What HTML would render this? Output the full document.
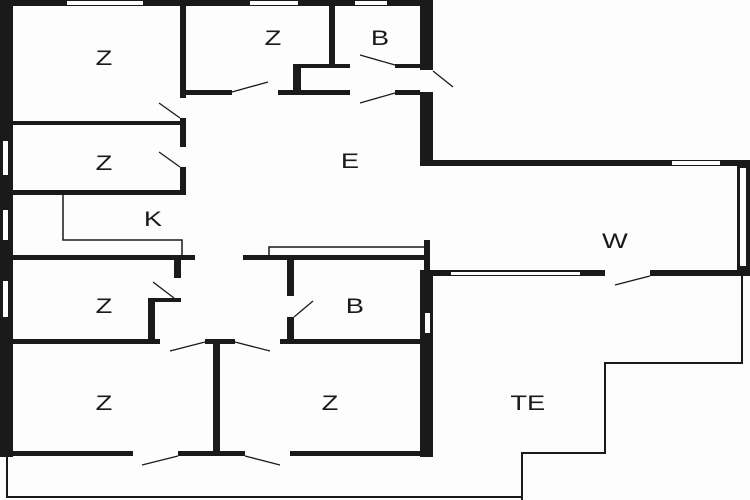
<!DOCTYPE html>
<html><head><style>body{margin:0;background:#fff}svg{display:block}text{font-family:"Liberation Sans",sans-serif;font-size:21px;fill:#1a1a1a;text-anchor:middle}</style></head><body>
<svg width="750" height="500" viewBox="0 0 750 500" xmlns="http://www.w3.org/2000/svg">
<rect width="750" height="500" fill="#fdfdfd"/>
<g fill="#1a1a1a">
<rect x="0" y="0" width="433" height="6"/>
<rect x="0" y="0" width="13" height="457"/>
<rect x="420" y="0" width="13" height="166"/>
<rect x="420" y="160" width="330" height="6"/>
<rect x="737" y="160" width="13" height="116"/>
<rect x="420" y="270" width="330" height="6"/>
<rect x="424" y="240" width="6" height="35"/>
<rect x="420" y="270" width="13" height="187"/>
<rect x="180" y="0" width="6" height="98"/>
<rect x="180" y="118" width="6" height="29"/>
<rect x="180" y="167" width="6" height="28"/>
<rect x="13" y="121" width="173" height="4"/>
<rect x="13" y="190" width="173" height="5"/>
<rect x="329" y="0" width="6" height="66"/>
<rect x="186" y="90" width="46" height="5"/>
<rect x="278" y="90" width="72" height="5"/>
<rect x="395" y="90" width="25" height="5"/>
<rect x="293" y="64" width="8" height="31"/>
<rect x="293" y="64" width="57" height="4"/>
<rect x="395" y="64" width="25" height="4"/>
<rect x="13" y="255" width="182" height="5"/>
<rect x="243" y="255" width="182" height="5"/>
<rect x="174" y="257" width="7" height="21"/>
<rect x="148" y="298" width="33" height="4"/>
<rect x="148" y="298" width="7" height="44"/>
<rect x="287" y="257" width="7" height="39"/>
<rect x="287" y="317" width="7" height="25"/>
<rect x="13" y="339" width="147" height="5"/>
<rect x="205" y="339" width="30" height="5"/>
<rect x="280" y="339" width="145" height="5"/>
<rect x="213" y="339" width="7" height="113"/>
<rect x="13" y="451" width="120" height="5"/>
<rect x="178" y="451" width="67" height="5"/>
<rect x="290" y="451" width="143" height="5"/>
</g>
<g fill="#fdfdfd">
<rect x="67" y="1" width="76" height="4"/>
<rect x="250" y="1" width="48" height="4"/>
<rect x="355" y="1" width="32" height="4"/>
<rect x="3" y="141" width="5" height="34"/>
<rect x="3" y="210" width="5" height="30"/>
<rect x="3" y="281" width="5" height="36"/>
<rect x="672" y="161" width="48" height="4"/>
<rect x="740" y="168" width="6" height="98"/>
<rect x="451" y="272" width="129" height="3"/>
<rect x="425" y="313" width="5" height="20"/>
<rect x="420" y="70" width="13" height="22"/>
<rect x="605" y="270" width="45" height="6"/>
</g>
<g stroke="#1a1a1a" stroke-width="1.3" fill="none">
<line x1="232" y1="92" x2="268" y2="82"/>
<line x1="360" y1="55" x2="395" y2="65"/>
<line x1="360" y1="103" x2="395" y2="93"/>
<line x1="433" y1="71" x2="453" y2="87"/>
<line x1="159" y1="103" x2="180" y2="118"/>
<line x1="159" y1="152" x2="180" y2="167"/>
<line x1="153" y1="282" x2="174" y2="298"/>
<line x1="294" y1="317" x2="313" y2="301"/>
<line x1="170" y1="351" x2="205" y2="342"/>
<line x1="235" y1="342" x2="270" y2="351"/>
<line x1="142" y1="465" x2="178" y2="456"/>
<line x1="245" y1="456" x2="280" y2="465"/>
<line x1="615" y1="285" x2="650" y2="276"/>
<polyline points="63,195 63,240 182,240 182,257" stroke-width="1.5"/>
<polyline points="269,258 269,247 424,247" stroke-width="1.5"/>
<polyline points="742,276 742,363 605,363 605,453 522,453 522,500" stroke-width="2"/>
<polyline points="7,456 7,497 522,497" stroke-width="2"/>
</g>
<g transform="scale(1.3,1)">
<text x="80" y="65">Z</text>
<text x="210" y="45">Z</text>
<text x="292.3" y="45">B</text>
<text x="269.2" y="168">E</text>
<text x="80" y="170">Z</text>
<text x="117.7" y="226">K</text>
<text x="473" y="248">W</text>
<text x="80" y="313">Z</text>
<text x="273" y="313">B</text>
<text x="80" y="410">Z</text>
<text x="253.8" y="410">Z</text>
<text x="406" y="410">TE</text>
</g>
</svg>
</body></html>
